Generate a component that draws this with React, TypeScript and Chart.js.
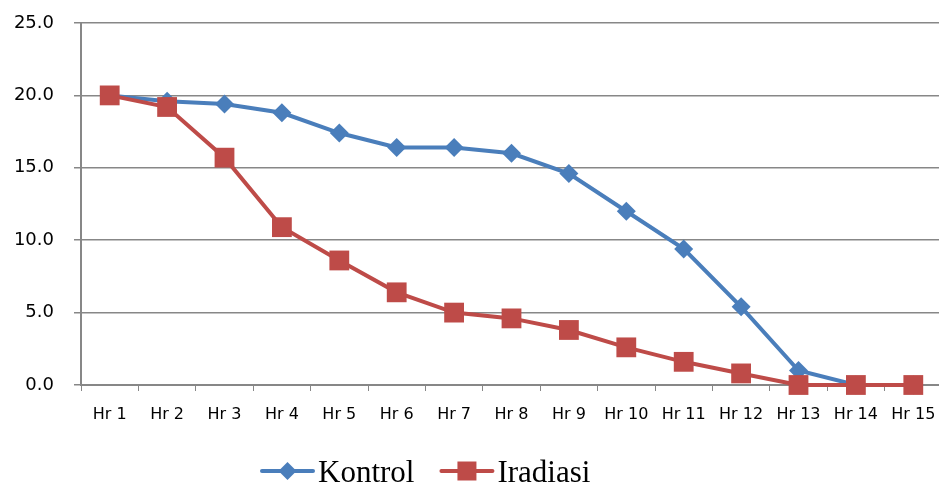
import React, { useEffect, useRef } from "react";
import { Chart, registerables } from "chart.js";

Chart.register(...registerables);

const categories = ["Hr 1", "Hr 2", "Hr 3", "Hr 4", "Hr 5", "Hr 6", "Hr 7", "Hr 8", "Hr 9", "Hr 10", "Hr 11", "Hr 12", "Hr 13", "Hr 14", "Hr 15"];
const kontrol = [20.0, 19.6, 19.4, 18.8, 17.4, 16.4, 16.4, 16.0, 14.6, 12.0, 9.4, 5.4, 1.0, 0.0, 0.0];
const iradiasi = [20.0, 19.2, 15.7, 10.9, 8.6, 6.4, 5.0, 4.6, 3.8, 2.6, 1.6, 0.8, 0.0, 0.0, 0.0];
const seriesNames = ["Kontrol", "Iradiasi"];
const yTicks = { min: 0, max: 25, step: 5 };

const BLUE = "#4A7EBB";
const RED = "#BE4B48";
const GRID = "#878787";

const legendPlugin = {
  id: "excelLegend",
  afterDraw(chart: any) {
    const ctx = chart.ctx as CanvasRenderingContext2D;
    ctx.save();
    ctx.font = "31px 'Liberation Serif'";
    const lineLen = 55;
    const gapText = 3;
    const gapItems = 25;
    const items = chart.data.datasets.map((d: any) => ({
      label: d.label,
      color: d.borderColor,
      style: d.pointStyle,
      w: lineLen + gapText + ctx.measureText(d.label).width,
    }));
    let x = 260;
    const cy = 471;
    for (const it of items) {
      ctx.strokeStyle = it.color;
      ctx.lineWidth = 4;
      ctx.lineCap = "round";
      ctx.beginPath();
      ctx.moveTo(x + 2, cy);
      ctx.lineTo(x + lineLen - 2, cy);
      ctx.stroke();
      ctx.fillStyle = it.color;
      const mx = x + lineLen / 2;
      ctx.beginPath();
      if (it.style === "rectRot") {
        const r = 9;
        ctx.moveTo(mx - r, cy);
        ctx.lineTo(mx, cy - r);
        ctx.lineTo(mx + r, cy);
        ctx.lineTo(mx, cy + r);
        ctx.closePath();
      } else {
        const s = 9.5;
        ctx.rect(mx - s, cy - s, 2 * s, 2 * s);
      }
      ctx.fill();
      ctx.fillStyle = "#000";
      ctx.textBaseline = "alphabetic";
      ctx.textAlign = "left";
      ctx.fillText(it.label, x + lineLen + gapText, 482);
      x += it.w + gapItems;
    }
    ctx.restore();
  },
};

export default function App() {
  const ref = useRef<HTMLCanvasElement | null>(null);
  useEffect(() => {
    if (!ref.current) return;
    const chart = new Chart(ref.current, {
      type: "line",
      data: {
        labels: categories,
        datasets: [
          {
            label: seriesNames[0],
            data: kontrol,
            order: 1,
            borderColor: BLUE,
            backgroundColor: BLUE,
            borderWidth: 4,
            pointStyle: "rectRot",
            pointRadius: 9.5,
            pointBorderWidth: 0,
            pointBackgroundColor: BLUE,
            tension: 0,
            clip: false,
          },
          {
            label: seriesNames[1],
            data: iradiasi,
            order: 0,
            borderColor: RED,
            backgroundColor: RED,
            borderWidth: 4,
            pointStyle: "rect",
            pointRadius: 14,
            pointBorderWidth: 0,
            pointBackgroundColor: RED,
            tension: 0,
            clip: false,
          },
        ],
      },
      options: {
        animation: false,
        responsive: false,
        maintainAspectRatio: false,
        layout: { padding: { top: 23, right: 0, bottom: 61, left: 0 } },
        plugins: {
          legend: { display: false },
          tooltip: { enabled: false },
        },
        scales: {
          x: {
            offset: true,
            afterFit: (s: any) => {
              s.height = 40;
            },
            grid: {
              offset: true,
              drawOnChartArea: false,
              drawTicks: true,
              tickLength: 6,
              color: GRID,
              lineWidth: 1,
            },
            border: { color: GRID, width: 2 },
            ticks: {
              autoSkip: false,
              maxRotation: 0,
              minRotation: 0,
              padding: 14,
              color: "#000",
              font: { family: "'DejaVu Sans'", size: 16 },
            },
          },
          y: {
            min: yTicks.min,
            max: yTicks.max,
            afterFit: (s: any) => {
              s.width = 81;
              s.paddingTop = 0;
              s.paddingBottom = 0;
            },
            grid: {
              color: GRID,
              lineWidth: 1.5,
              tickLength: 7,
            },
            border: { color: GRID, width: 2 },
            ticks: {
              stepSize: yTicks.step,
              padding: 20,
              color: "#000",
              font: { family: "'DejaVu Sans'", size: 18 },
              callback: (v: any) => Number(v).toFixed(1),
            },
          },
        },
      },
      plugins: [legendPlugin],
    });
    return () => chart.destroy();
  }, []);
  return (
    <div style={{ position: "absolute", left: 0, top: 0, width: 939, height: 486, overflow: "hidden", background: "#fff" }}>
      <canvas ref={ref} width={956} height={486} style={{ width: 956, height: 486, display: "block" }} />
    </div>
  );
}
